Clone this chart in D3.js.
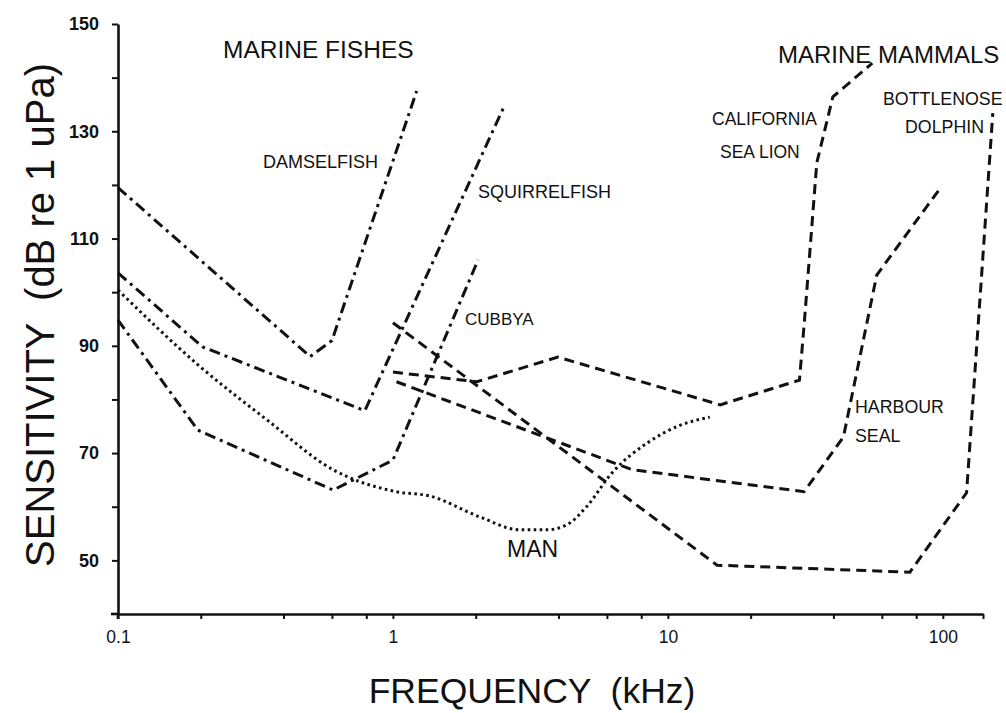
<!DOCTYPE html>
<html>
<head>
<meta charset="utf-8">
<script src="https://cdn.jsdelivr.net/npm/d3@7/dist/d3.min.js"></script>
<style>
  html, body { margin: 0; padding: 0; background: #fff; }
  svg text { font-family: "Liberation Sans", Arial, Helvetica, sans-serif; fill: #111; }
</style>
</head>
<body>
<svg id="chart" width="1006" height="713"></svg>
<script>
// ---- Data (frequency in kHz, sensitivity in dB re 1 uPa) ----
const yTickValues = [40, 50, 60, 70, 80, 90, 100, 110, 120, 130, 140, 150];
const yTickLabels = [50, 70, 90, 110, 130, 150];
const xTickValues = [0.1, 0.2, 0.4, 0.6, 0.8, 1, 2, 4, 6, 8, 10, 20, 40, 60, 80, 100, 140];
const xTickLabels = [0.1, 1, 10, 100];

const damselfishFreq = [0.1, 0.5, 0.6, 1.22];
const damselfishDb   = [119.5, 88, 91, 137.5];

const squirrelfishFreq = [0.1, 0.203, 0.79, 2.55];
const squirrelfishDb   = [103.6, 89.8, 77.9, 134.9];

const cubbyaFreq = [0.1, 0.195, 0.606, 1.0, 2.04];
const cubbyaDb   = [94.8, 74.3, 63.1, 68.7, 106];

const manFreq = [0.1, 0.199, 0.348, 0.606, 1.03, 1.36, 2.07, 2.89, 3.63, 4.28, 5.06, 6.26, 8.42, 11.1, 14.2];
const manDb   = [100.4, 86.1, 76.2, 66.9, 62.8, 62.0, 58.1, 55.7, 55.7, 56.6, 60.0, 66.3, 71.9, 75.2, 76.7];

const dolphinFreq = [1.0, 15.1, 75.9, 122, 152];
const dolphinDb   = [94.3, 49.1, 47.8, 62.6, 133.4];

const seaLionFreq = [1.0, 2.02, 3.98, 15.5, 30.1, 31.4, 34.8, 39.8, 55.4];
const seaLionDb   = [85.1, 83.3, 87.9, 79.0, 83.6, 94.8, 124.1, 136.4, 142.7];

const harbourSealFreq = [1.03, 7.42, 31.3, 43.5, 57.5, 97.9];
const harbourSealDb   = [83.3, 66.9, 62.8, 73.0, 103.2, 119.4];

const dashDot = "11,5,3,5";
const dashed  = "10,6";
const dotted  = "2.6,3.4";

const series = [
  {f: damselfishFreq,   v: damselfishDb,   dash: dashDot, curve: d3.curveLinear},
  {f: squirrelfishFreq, v: squirrelfishDb, dash: dashDot, curve: d3.curveLinear},
  {f: cubbyaFreq,       v: cubbyaDb,       dash: dashDot, curve: d3.curveLinear},
  {f: manFreq,          v: manDb,          dash: dotted,  curve: d3.curveMonotoneX},
  {f: dolphinFreq,      v: dolphinDb,      dash: dashed,  curve: d3.curveLinear},
  {f: seaLionFreq,      v: seaLionDb,      dash: dashed,  curve: d3.curveLinear},
  {f: harbourSealFreq,  v: harbourSealDb,  dash: dashed,  curve: d3.curveLinear}
];

const labels = [
  {t: "MARINE FISHES",  x: 223, y: 58,  s: 24.5},
  {t: "DAMSELFISH",     x: 263, y: 168, s: 18},
  {t: "SQUIRRELFISH",   x: 478, y: 198, s: 18},
  {t: "CUBBYA",         x: 465, y: 325, s: 17},
  {t: "MAN",            x: 507, y: 557, s: 23},
  {t: "MARINE MAMMALS", x: 778, y: 63,  s: 24},
  {t: "CALIFORNIA",     x: 712, y: 125, s: 17.5},
  {t: "SEA LION",       x: 720, y: 158, s: 17.5},
  {t: "BOTTLENOSE",     x: 883, y: 105, s: 17.8},
  {t: "DOLPHIN",        x: 905, y: 133, s: 17.8},
  {t: "HARBOUR",        x: 855, y: 413, s: 17.8},
  {t: "SEAL",           x: 855, y: 442, s: 17.8}
];

// ---- Scales ----
const x = d3.scaleLog().domain([0.1, 140]).range([118, 983]);
const y = d3.scaleLinear().domain([40, 150]).range([614, 24]);

const svg = d3.select("#chart");

// ---- Axes ----
const yAxis = d3.axisLeft(y)
  .tickValues(yTickValues)
  .tickSize(6)
  .tickSizeOuter(0)
  .tickFormat(d => yTickLabels.includes(d) ? String(d) : "");
const gy = svg.append("g").attr("transform", `translate(${x(0.1)},0)`).call(yAxis);
gy.select(".domain").attr("stroke", "#111").attr("stroke-width", 2.6);
gy.selectAll(".tick line").attr("stroke", "#111").attr("stroke-width", 2);
gy.selectAll(".tick text")
  .attr("x", -19)
  .style("font-size", "18px")
  .style("font-weight", "bold");
gy.selectAll(".tick").filter(d => d === 40).select("line").remove();

const xAxis = d3.axisBottom(x)
  .tickValues(xTickValues)
  .tickSize(5)
  .tickSizeOuter(0)
  .tickFormat(d => xTickLabels.includes(d) ? String(d) : "");
const gx = svg.append("g").attr("transform", `translate(0,${y(40)})`).call(xAxis);
gx.select(".domain").attr("stroke", "#111").attr("stroke-width", 2.6);
gx.selectAll(".tick line").attr("stroke", "#111").attr("stroke-width", 2);
gx.selectAll(".tick text")
  .attr("y", 17)
  .style("font-size", "17.5px");

// small extension of axes past the origin
svg.append("line")
  .attr("x1", x(0.1) - 7).attr("x2", x(0.1))
  .attr("y1", y(40)).attr("y2", y(40))
  .attr("stroke", "#111").attr("stroke-width", 2.6);
svg.append("line")
  .attr("x1", x(0.1)).attr("x2", x(0.1))
  .attr("y1", y(40)).attr("y2", y(40) + 5)
  .attr("stroke", "#111").attr("stroke-width", 2.6);

// ---- Curves ----
series.forEach(s => {
  const pts = s.f.map((f, i) => [f, s.v[i]]);
  const line = d3.line().x(d => x(d[0])).y(d => y(d[1])).curve(s.curve);
  svg.append("path")
    .attr("d", line(pts))
    .attr("fill", "none")
    .attr("stroke", "#111")
    .attr("stroke-width", 3)
    .attr("stroke-dasharray", s.dash);
});

// ---- Labels ----
labels.forEach(l => {
  svg.append("text")
    .attr("x", l.x).attr("y", l.y)
    .style("font-size", l.s + "px")
    .text(l.t);
});

// ---- Axis titles ----
svg.append("text")
  .attr("transform", "translate(54,315) rotate(-90)")
  .attr("text-anchor", "middle")
  .style("font-size", "40px")
  .style("white-space", "pre")
  .text("SENSITIVITY  (dB re 1 uPa)");

svg.append("text")
  .attr("x", 532).attr("y", 703)
  .attr("text-anchor", "middle")
  .style("font-size", "35.5px")
  .style("white-space", "pre")
  .text("FREQUENCY  (kHz)");
</script>
</body>
</html>
